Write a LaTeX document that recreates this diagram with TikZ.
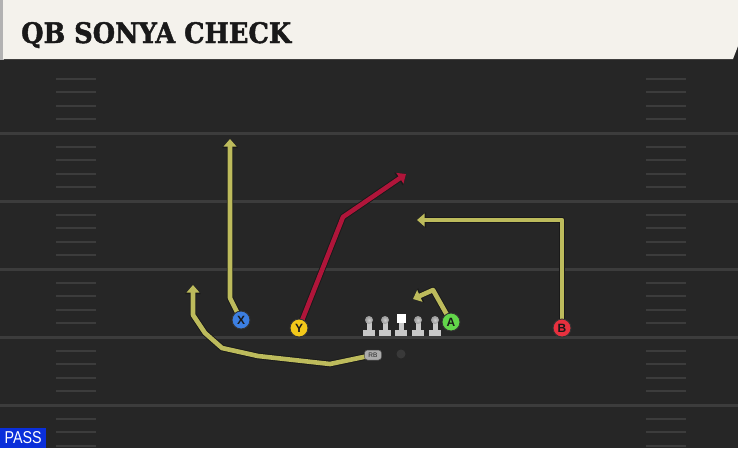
\documentclass[tikz,border=0pt]{standalone}
\usepackage{fontspec}
\usepackage{graphicx}
\setmainfont{DejaVu Sans}
\newfontfamily\titlefont{DejaVu Serif}[FakeBold=1.6]
\newfontfamily\labfont{Liberation Sans}
\usetikzlibrary{arrows.meta}
\definecolor{fieldbg}{HTML}{262626}
\definecolor{yardline}{HTML}{3C3C3C}
\definecolor{headbg}{HTML}{F4F2EC}
\definecolor{rtyellow}{HTML}{BDBB5C}
\definecolor{rtred}{HTML}{B0153A}
\definecolor{pblue}{HTML}{3C7FE2}
\definecolor{pyellow}{HTML}{F2C81A}
\definecolor{pgreen}{HTML}{62D64A}
\definecolor{pred}{HTML}{E8303E}
\definecolor{passblue}{HTML}{0A2FDA}
\definecolor{lineman}{HTML}{C8C8C8}
\tikzset{
  yard/.style={draw=yardline, line width=3pt},
  hashm/.style={draw=yardline, line width=2pt},
  outl/.style={draw=black!90, line width=6.4pt, line join=round, -{Triangle[length=9pt,width=15pt]}},
  rtY/.style={draw=rtyellow, line width=4.6pt, line join=round, -{Triangle[length=7.5pt,width=12.5pt]}},
  rtR/.style={draw=rtred, line width=4.6pt, line join=round, -{Triangle[length=7.5pt,width=12.5pt]}},
  player/.style={circle, draw=black!80, line width=0.9pt, minimum size=18pt, inner sep=0pt,
     font=\labfont\bfseries\fontsize{12}{12}\selectfont, text=black!90},
}
\begin{document}
\begin{tikzpicture}[x=1pt,y=-1pt]
\useasboundingbox (0,0) rectangle (738,448);
% field
\fill[fieldbg] (0,0) rectangle (738,448);
\fill[black!85] (0,58) rectangle (738,66);
% yard lines
\foreach \y in {133,201,269,337,405} \draw[yard] (0,\y) -- (738,\y);
% hash marks
\foreach \b in {65,133,201,269,337,405} {
  \foreach \k in {1,2,3,4} {
    \pgfmathsetmacro{\yy}{\b+\k*13.6}
    \draw[hashm] (56,\yy) -- (96,\yy);
    \draw[hashm] (646,\yy) -- (686,\yy);
  }
}
% header
\fill[gray!60] (0,0) rectangle (4,60);
\fill[headbg] (3,0) -- (738,0) -- (738,46) -- (733,59) -- (3,59) -- cycle;
\node[anchor=base west, inner sep=0pt, text=black!90] (title) at (21,43)
  {\resizebox{270pt}{21pt}{\titlefont\bfseries QB SONYA CHECK}};
% player positions
\coordinate (Xc) at (241,320);
\coordinate (Yc) at (299,328);
\coordinate (Ac) at (451,322);
\coordinate (Bc) at (562,328);
\coordinate (RBc) at (373,355);
% route waypoints
\coordinate (x1) at (230,298); \coordinate (x2) at (230,139);
\coordinate (y1) at (343,217); \coordinate (y2) at (406,174);
\coordinate (b1) at (562,220); \coordinate (b2) at (417,220);
\coordinate (a1) at (433,290); \coordinate (a2) at (413,299);
\coordinate (r1) at (330,364); \coordinate (r2) at (258,356);
\coordinate (r3) at (222,348); \coordinate (r4) at (205,333);
\coordinate (r5) at (193,315); \coordinate (r6) at (193,285);
% routes (outline then colour)
\draw[outl] (Xc) -- (x1) -- (x2);
\draw[rtY] (Xc) -- (x1) -- (x2);
\draw[outl] (Yc) -- (y1) -- (y2);
\draw[rtR] (Yc) -- (y1) -- (y2);
\draw[outl] (Bc) -- (b1) -- (b2);
\draw[rtY] (Bc) -- (b1) -- (b2);
\draw[outl] (Ac) -- (a1) -- (a2);
\draw[rtY] (Ac) -- (a1) -- (a2);
\draw[outl] (RBc) -- (r1) -- (r2) -- (r3) -- (r4) -- (r5) -- (r6);
\draw[rtY] (RBc) -- (r1) -- (r2) -- (r3) -- (r4) -- (r5) -- (r6);
% linemen
\foreach \x/\n in {369/lt,385/lg,418/rg,435/rt} {
  \fill[lineman] (\x-6,330) rectangle (\x+6,336);
  \fill[lineman] (\x-2.5,322) rectangle (\x+2.5,330);
  \node[circle, inner sep=0pt, minimum size=8pt, inner color=gray!40, outer color=gray!80] (\n) at (\x,320) {};
}
\fill[lineman] (395,330) rectangle (407,336);
\fill[lineman] (398.5,322) rectangle (403.5,330);
\node[fill=white, inner sep=0pt, minimum width=9pt, minimum height=9pt] (C) at (401,318.5) {};
% RB and QB
\node[rounded corners=3pt, fill=gray!65, draw=black!70, line width=0.5pt, minimum width=17pt, minimum height=10pt,
  inner sep=0pt, font=\labfont\fontsize{6.5}{7}\selectfont, text=black!85] (RB) at (RBc) {RB};
\node[circle, fill=gray!45!black, inner sep=0pt, minimum size=9pt] (QB) at (401,354) {};
% players
\node[player, fill=pblue] (X) at (Xc) {X};
\node[player, fill=pyellow] (Y) at (Yc) {Y};
\node[player, fill=pgreen] (A) at (Ac) {A};
\node[player, fill=pred] (B) at (Bc) {B};
% pass label
\node[fill=passblue, text=white, anchor=south west, inner sep=0pt, minimum width=46pt, minimum height=20pt,
  font=\labfont] (pass) at (0,448) {\resizebox{37pt}{12pt}{PASS}};
\end{tikzpicture}
\end{document}
